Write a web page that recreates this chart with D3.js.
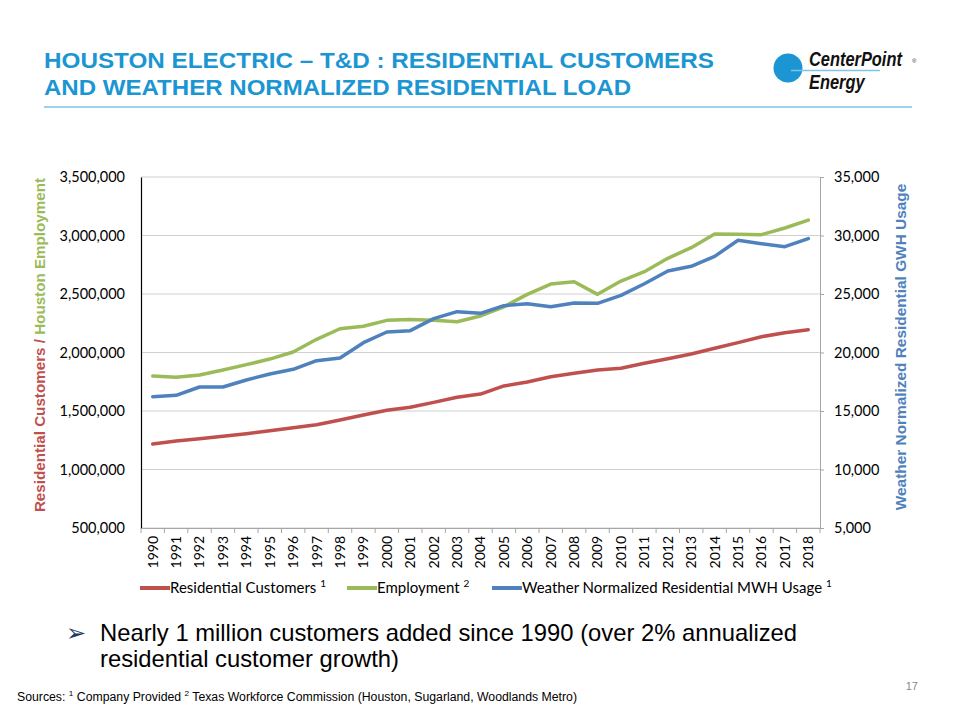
<!DOCTYPE html>
<html><head><meta charset="utf-8">
<script src="https://cdn.jsdelivr.net/npm/d3@7"></script>
<style>body{margin:0;background:#fff}svg{display:block}</style>
</head><body>
<svg id="c" width="960" height="720"></svg>
<script>
const years = [1990,1991,1992,1993,1994,1995,1996,1997,1998,1999,2000,2001,2002,2003,2004,2005,2006,2007,2008,2009,2010,2011,2012,2013,2014,2015,2016,2017,2018];
const residentialCustomers = [1218000,1244000,1263000,1284000,1306000,1332000,1357000,1383000,1423000,1466000,1506000,1532000,1574000,1617000,1645000,1714000,1748000,1793000,1822000,1850000,1865000,1908000,1947000,1987000,2036000,2084000,2135000,2169000,2195000];
const employment = [1799000,1788000,1808000,1850000,1896000,1944000,2004000,2113000,2203000,2224000,2275000,2281000,2275000,2263000,2312000,2391000,2497000,2585000,2605000,2497000,2611000,2691000,2805000,2896000,3013000,3010000,3007000,3064000,3132000];
const usageGWH = [16225,16339,17051,17051,17650,18162,18561,19302,19530,20838,21752,21866,22892,23490,23348,24000,24171,23917,24231,24200,24886,25880,26966,27365,28220,29590,29300,29043,29730];
const leftTicks = [500000,1000000,1500000,2000000,2500000,3000000,3500000];
const rightTicks = [5000,10000,15000,20000,25000,30000,35000];
const legendItems = [
  {name:"Residential Customers", sup:"1", color:"#c0504d"},
  {name:"Employment", sup:"2", color:"#9bbb59"},
  {name:"Weather Normalized Residential MWH Usage", sup:"1", color:"#4f81bd"}
];

const svg = d3.select("#c");
const L = 141, R = 820, T = 177, B = 528;
const x = d3.scaleBand().domain(years).range([L, R]);
const yL = d3.scaleLinear().domain([500000, 3500000]).range([B, T]);
const yR = d3.scaleLinear().domain([5000, 35000]).range([B, T]);
const fmt = d3.format(",");
const blue = "#1b96d2";

// Title
const tAttrs = s => s.attr("font-family", "Liberation Sans, Arial, sans-serif").attr("font-weight", "bold")
  .attr("font-size", 22.5).attr("fill", blue).attr("lengthAdjust", "spacingAndGlyphs");
svg.append("text").attr("x", 44).attr("y", 68).call(tAttrs).attr("textLength", 670)
  .text("HOUSTON ELECTRIC – T&D :  RESIDENTIAL CUSTOMERS");
svg.append("text").attr("x", 44).attr("y", 95).call(tAttrs).attr("textLength", 587)
  .text("AND WEATHER NORMALIZED RESIDENTIAL LOAD");
svg.append("line").attr("x1", 44).attr("x2", 912).attr("y1", 107).attr("y2", 107)
  .attr("stroke", "#3aa6d8").attr("stroke-width", 1.2);

// Logo
svg.append("circle").attr("cx", 788).attr("cy", 68).attr("r", 14.5).attr("fill", "#1b96d2");
svg.append("line").attr("x1", 791).attr("x2", 880).attr("y1", 70.5).attr("y2", 70.5).attr("stroke", "#7cc4e8").attr("stroke-width", 1.3);
const logoFont = s => s.attr("font-family", "Liberation Sans, Arial").attr("font-style", "italic")
  .attr("font-weight", "bold").attr("font-size", 20.5).attr("fill", "#111");
svg.append("g").attr("transform", "translate(809,66) scale(0.8,1)").append("text").call(logoFont).text("CenterPoint");
svg.append("g").attr("transform", "translate(809,89) scale(0.8,1)").append("text").call(logoFont).text("Energy");
svg.append("text").attr("x", 912).attr("y", 63).attr("font-family", "Arial").attr("font-size", 6).attr("fill", "#333").text("®");

// Gridlines
svg.append("g").selectAll("line").data(leftTicks).join("line")
  .attr("x1", L).attr("x2", R).attr("y1", d => yL(d)).attr("y2", d => yL(d))
  .attr("stroke", "#d0d0d0").attr("stroke-width", 1);

// Left axis
const gL = svg.append("g").attr("transform", `translate(${L},0)`)
  .call(d3.axisLeft(yL).tickValues(leftTicks).tickFormat(fmt).tickSize(0).tickPadding(16));
gL.select(".domain").attr("stroke", "#000").attr("stroke-width", 1.2);
gL.selectAll("text").attr("font-family", "Lato, Open Sans, sans-serif").attr("font-size", 14.5).attr("fill", "#000");

// Right axis
const gR = svg.append("g").attr("transform", `translate(${R},0)`)
  .call(d3.axisRight(yR).tickValues(rightTicks).tickFormat(fmt).tickSizeOuter(0).tickSize(4).tickPadding(10));
gR.select(".domain").attr("stroke", "#a6a6a6");
gR.selectAll(".tick line").attr("stroke", "#a6a6a6");
gR.selectAll("text").attr("font-family", "Lato, Open Sans, sans-serif").attr("font-size", 14.5).attr("fill", "#000");

// Bottom axis
const gB = svg.append("g").attr("transform", `translate(0,${B})`)
  .call(d3.axisBottom(x).tickSize(0).tickPadding(0));
gB.select(".domain").attr("stroke", "#a6a6a6");
gB.selectAll("text").attr("font-family", "Lato, Open Sans, sans-serif").attr("font-size", 14).attr("fill", "#000")
  .attr("transform", "rotate(-90)").attr("text-anchor", "end").attr("dy", "0.35em").attr("x", -8).attr("y", 0);
const bounds = years.map(y => x(y)).concat([R]);
svg.append("g").selectAll("line").data(bounds).join("line")
  .attr("x1", d => d).attr("x2", d => d).attr("y1", B).attr("y2", B + 5)
  .attr("stroke", "#a6a6a6");

// Lines
const lineL = d3.line().x((d, i) => x(years[i]) + x.bandwidth() / 2).y(d => yL(d));
const lineR = d3.line().x((d, i) => x(years[i]) + x.bandwidth() / 2).y(d => yR(d));
[[residentialCustomers, lineL, 0], [employment, lineL, 1], [usageGWH, lineR, 2]].forEach(([data, gen, k]) => {
  svg.append("path").datum(data).attr("d", gen).attr("fill", "none")
    .attr("stroke", legendItems[k].color).attr("stroke-width", 3.5).attr("stroke-linejoin", "round").attr("stroke-linecap", "round");
});

// Axis titles
const lt = svg.append("text").attr("transform", `translate(45,345) rotate(-90)`)
  .attr("text-anchor", "middle").attr("font-family", "Liberation Sans, Arial").attr("font-weight", "bold").attr("font-size", 15.2);
lt.append("tspan").attr("fill", "#c0504d").text("Residential Customers / ");
lt.append("tspan").attr("fill", "#9bbb59").text("Houston Employment");
svg.append("text").attr("transform", `translate(906,347) rotate(-90)`)
  .attr("text-anchor", "middle").attr("font-family", "Liberation Sans, Arial").attr("font-weight", "bold").attr("font-size", 15.4)
  .attr("fill", "#4f81bd").text("Weather Normalized Residential GWH Usage");

// Legend
const legX = [140, 347, 492];
const lg = svg.append("g");
legendItems.forEach((it, i) => {
  const g = lg.append("g").attr("transform", `translate(${legX[i]},588)`);
  g.append("line").attr("x1", 0).attr("x2", 30).attr("y1", 0).attr("y2", 0).attr("stroke", it.color).attr("stroke-width", 4);
  const t = g.append("text").attr("x", 30).attr("y", 5).attr("font-family", "Lato, Open Sans, sans-serif").attr("font-size", 15).attr("fill", "#000");
  t.append("tspan").text(it.name + " ");
  t.append("tspan").attr("font-size", 10).attr("dy", -6).text(it.sup);
});

// Bullet
svg.append("text").attr("x", 66).attr("y", 641).attr("font-family", "DejaVu Sans").attr("font-size", 24).attr("fill", "#1f3864").text("➢");
const bt = svg.append("text").attr("font-family", "Liberation Sans, Arial").attr("font-size", 23.8).attr("fill", "#000");
bt.append("tspan").attr("x", 100).attr("y", 641).text("Nearly 1 million customers added since 1990 (over 2% annualized");
bt.append("tspan").attr("x", 100).attr("y", 667).text("residential customer growth)");

// Page number & sources
svg.append("text").attr("x", 918).attr("y", 690).attr("text-anchor", "end").attr("font-family", "Liberation Sans, Arial")
  .attr("font-size", 11).attr("fill", "#888").text("17");
const src = svg.append("text").attr("x", 17).attr("y", 701).attr("font-family", "Liberation Sans, Arial").attr("font-size", 12)
  .attr("fill", "#000").attr("textLength", 560).attr("lengthAdjust", "spacingAndGlyphs");
src.append("tspan").text("Sources:  ");
src.append("tspan").attr("font-size", 8).attr("dy", -5).text("1");
src.append("tspan").attr("dy", 5).text(" Company Provided   ");
src.append("tspan").attr("font-size", 8).attr("dy", -5).text("2");
src.append("tspan").attr("dy", 5).text(" Texas Workforce Commission (Houston, Sugarland, Woodlands Metro)");
</script>
</body></html>
